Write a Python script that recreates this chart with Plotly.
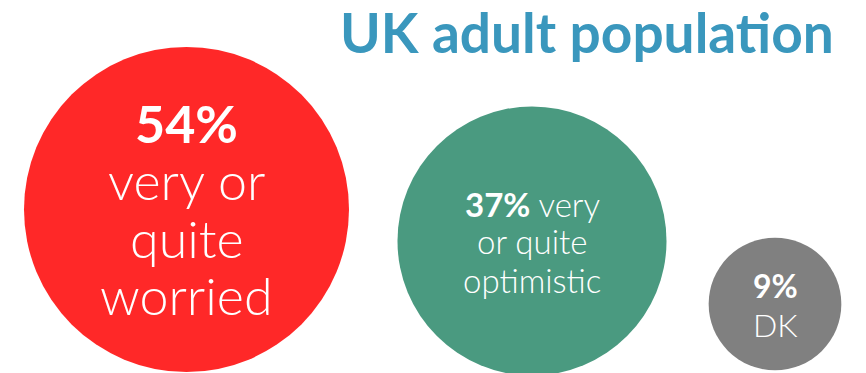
import plotly.graph_objects as go

# Survey shares (percent of UK adults)
labels = ["very or quite worried", "very or quite optimistic", "DK"]
shares = [54, 37, 9]
label_lines = [
    ["very or", "quite", "worried"],
    ["very", "or quite", "optimistic"],
    ["DK"],
]

# Layout: bubble centres in pixel space
centre_x = [186.5, 532, 775]
centre_y = [209.5, 241, 304]
colours = ["#FF2828", "#4A9A80", "#808080"]

# Per-bubble text styling: font size, baseline of each line, whether the
# share sits on its own line
text_sizes = [52, 33, 32]
line_baselines = [
    [143, 200, 258, 315],
    [217, 254, 293],
    [298, 337],
]
share_own_line = [True, False, True]

W, H = 866, 373
max_diam = 325

fig = go.Figure()
fig.add_trace(go.Scatter(
    x=centre_x, y=centre_y, mode="markers",
    marker=dict(
        size=shares, sizemode="area",
        sizeref=2 * max(shares) / max_diam ** 2,
        color=colours, line=dict(width=0), opacity=1,
    ),
    hoverinfo="text", hovertext=[f"{s}% {l}" for s, l in zip(shares, labels)],
    showlegend=False,
))

# Text inside each bubble, one annotation per line
BASELINE_OFFSET = 0.385  # baseline sits this many ems below the box middle
for cx, share, lines, fs, baselines, own in zip(
        centre_x, shares, label_lines, text_sizes, line_baselines, share_own_line):
    if own:
        rows = [f"<b>{share}%</b>"] + lines
    else:
        rows = [f"<b>{share}%</b> {lines[0]}"] + lines[1:]
    for row, base in zip(rows, baselines):
        fig.add_annotation(
            x=cx, y=base - BASELINE_OFFSET * fs, xref="x", yref="y",
            text=row, showarrow=False, xanchor="center", yanchor="middle",
            font=dict(family="Lato", size=fs, color="white", weight=300),
        )

fig.add_annotation(
    x=836, y=32, xref="x", yref="y", text="<b>UK adult population</b>",
    showarrow=False, xanchor="right", yanchor="middle",
    font=dict(family="Lato", size=55, color="#3A97BD"),
)

fig.update_xaxes(range=[0, W], visible=False, fixedrange=True)
fig.update_yaxes(range=[H, 0], visible=False, fixedrange=True)
fig.update_layout(
    width=W, height=H, margin=dict(l=0, r=0, t=0, b=0),
    paper_bgcolor="white", plot_bgcolor="white",
)
fig.write_html("out.html")
